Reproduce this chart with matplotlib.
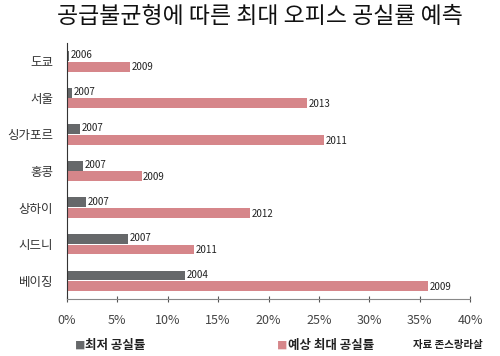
import numpy as np
import matplotlib.pyplot as plt

plt.rcParams['font.family'] = ['Noto Sans CJK KR', 'DejaVu Sans']

# 데이터
cities = ['도쿄', '서울', '싱가포르', '홍콩', '상하이', '시드니', '베이징']
min_rate = [0.2, 0.5, 1.3, 1.6, 1.9, 6.1, 11.7]      # 최저 공실률 (%)
max_rate = [6.3, 23.8, 25.5, 7.4, 18.2, 12.6, 35.8]  # 예상 최대 공실률 (%)
min_years = [2006, 2007, 2007, 2007, 2007, 2007, 2004]
max_years = [2009, 2013, 2011, 2009, 2012, 2011, 2009]
x_ticks = [0, 5, 10, 15, 20, 25, 30, 35, 40]

dark = '#66686a'
pink = '#d6868a'

fig = plt.figure(figsize=(5.0, 3.56), dpi=100)
ax = fig.add_axes([0.134, 0.160, 0.806, 0.719])

y = np.arange(len(cities))
h = 0.27
ax.barh(y - h / 2 - 0.01, min_rate, height=h, color=dark)
ax.barh(y + h / 2 + 0.01, max_rate, height=h, color=pink)

for i in range(len(cities)):
    ax.text(min_rate[i] + 0.15, y[i] - h / 2 - 0.03, str(min_years[i]),
            fontsize=7, va='center', ha='left', color='#222222')
    ax.text(max_rate[i] + 0.15, y[i] + h / 2 + 0.03, str(max_years[i]),
            fontsize=7, va='center', ha='left', color='#222222')

ax.set_ylim(len(cities) - 0.5, -0.5)
ax.set_xlim(0, 40)
ax.set_yticks(y)
ax.set_yticklabels(cities, fontsize=9, color='#333333')
ax.set_xticks(x_ticks)
ax.set_xticklabels([f'{t}%' for t in x_ticks], fontsize=9, color='#444444')
ax.tick_params(axis='y', length=0, pad=10)
ax.tick_params(axis='x', direction='inout', length=5, color='#555555', pad=8)

for s in ['top', 'right']:
    ax.spines[s].set_visible(False)
ax.spines['left'].set_color('#333333')
ax.spines['bottom'].set_color('#888888')

fig.text(0.52, 0.955, '공급불균형에 따른 최대 오피스 공실률 예측',
         ha='center', va='center', fontsize=16.5, color='#111111')

# 범례
fig.text(0.150, 0.03, '■', color=dark, fontsize=7.5, ha='left', va='center')
fig.text(0.170, 0.03, '최저 공실률', fontsize=9, fontweight='bold',
         color='#222222', ha='left', va='center')
fig.text(0.554, 0.03, '■', color=pink, fontsize=7.5, ha='left', va='center')
fig.text(0.576, 0.03, '예상 최대 공실률', fontsize=9, fontweight='bold',
         color='#222222', ha='left', va='center')
fig.text(0.826, 0.03, '자료 존스랑라살', fontsize=7.5, fontweight='bold',
         color='#222222', ha='left', va='center')

fig.savefig('out.png', dpi=100)
